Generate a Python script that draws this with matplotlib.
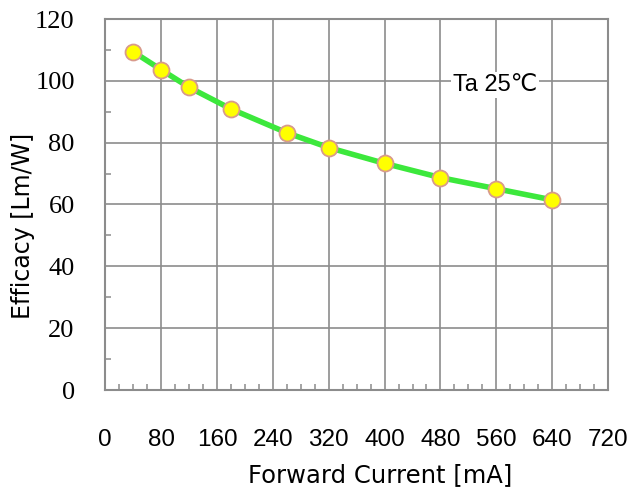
import matplotlib
matplotlib.use("Agg")
import matplotlib.pyplot as plt
from matplotlib.ticker import MultipleLocator

# Data
current_ma = [40, 80, 120, 180, 260, 320, 400, 480, 560, 640]
efficacy = [109.4, 103.6, 97.9, 90.9, 83.2, 78.4, 73.3, 68.7, 65.1, 61.5]
x_ticks = [0, 80, 160, 240, 320, 400, 480, 560, 640, 720]
y_ticks = [0, 20, 40, 60, 80, 100, 120]
x_label = "Forward Current [mA]"
y_label = "Efficacy [Lm/W]"
note = "Ta 25\u2103"

fig = plt.figure(figsize=(6.34, 4.9), dpi=100)
ax = fig.add_axes([105.3/634, 1-390/490, (608-105.3)/634, (390-19)/490])

grid_c = "#8c8c8c"
ax.set_xlim(0, 720)
ax.set_ylim(0, 120)
ax.set_xticks(x_ticks)
ax.set_yticks(y_ticks)
ax.xaxis.set_minor_locator(MultipleLocator(20))
ax.yaxis.set_minor_locator(MultipleLocator(10))
ax.grid(True, which="major", color=grid_c, linewidth=1.2)
for s in ax.spines.values():
    s.set_color(grid_c)
    s.set_linewidth(1.5)
ax.tick_params(which="major", length=0, pad=0)
ax.tick_params(which="minor", direction="in", length=4.5, width=1.1, color=grid_c)
ax.tick_params(axis="x", which="major", pad=28)
ax.tick_params(axis="y", which="major", pad=22)

ax.set_xticklabels([str(v) for v in x_ticks], fontsize=17.5, family="Liberation Sans")
ax.set_yticklabels([str(v) for v in y_ticks], fontsize=19, family="Liberation Serif")

ax.plot(current_ma, efficacy, color="#3ce83c", linewidth=4.0, zorder=3,
        solid_capstyle="round", solid_joinstyle="round")
ax.plot(current_ma, efficacy, linestyle="none", marker="o", markersize=11.5,
        markerfacecolor="#ffff00", markeredgecolor="#d89a8c", markeredgewidth=1.3, zorder=4)

ax.text(558, 98.7, note, fontsize=17, family=["Liberation Sans", "DejaVu Sans"],
        ha="center", va="center",
        bbox=dict(facecolor="white", edgecolor="none", pad=1.5), zorder=5)

ax.set_xlabel(x_label, fontsize=17.5, family="DejaVu Sans")
ax.xaxis.set_label_coords((380-105.3)/(608-105.3), (390-475)/371, transform=ax.transAxes)
ax.set_ylabel(y_label, fontsize=17, family="DejaVu Sans")
ax.yaxis.set_label_coords((23-105.3)/(608-105.3), (390-226)/371, transform=ax.transAxes)
ax.xaxis.label.set_va("center")
ax.yaxis.label.set_va("center")

fig.savefig("out.png", dpi=100)
